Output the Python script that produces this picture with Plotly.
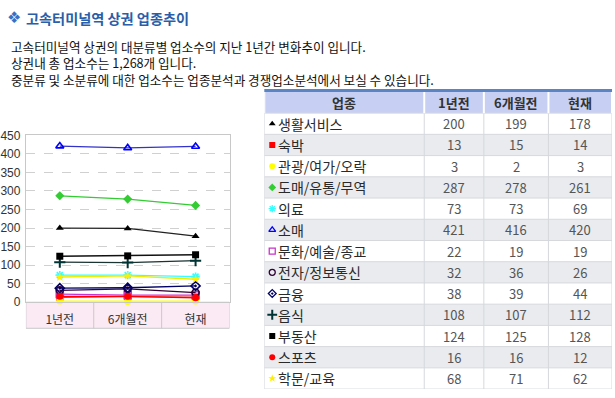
import plotly.graph_objects as go

W, H = 615, 398

periods = ["1년전", "6개월전", "현재"]
categories = ["생활서비스", "숙박", "관광/여가/오락", "도매/유통/무역", "의료", "소매",
              "문화/예술/종교", "전자/정보통신", "금융", "음식", "부동산", "스포츠", "학문/교육"]
v_1y = [200, 13, 3, 287, 73, 421, 22, 32, 38, 108, 124, 16, 68]
v_6m = [199, 15, 2, 278, 73, 416, 19, 36, 39, 107, 125, 16, 71]
v_now = [178, 14, 3, 261, 69, 420, 19, 26, 44, 112, 128, 12, 62]
y_ticks = [0, 50, 100, 150, 200, 250, 300, 350, 400, 450]
table_header = "업종"
title_text = "고속터미널역 상권 업종추이"
intro_lines = ["고속터미널역 상권의 대분류별 업소수의 지난 1년간 변화추이 입니다.",
               "상권내 총 업소수는 1,268개 입니다.",
               "중분류 및 소분류에 대한 업소수는 업종분석과 경쟁업소분석에서 보실 수 있습니다."]

line_colors = ["#222222", "#ff2020", "#ffff00", "#33cc33", "#33ffff", "#3333cc",
               "#cc33cc", "#330033", "#000066", "#1a3333", "#111111", "#ff0000", "#eeee00"]
marker_colors = ["#000000", "#ff0000", "#ffff00", "#33cc33", "#33ffff", "#0000ff",
                 "#cc33cc", "#330033", "#000066", "#003333", "#000000", "#ff0000", "#ffee00"]
symbols = ["triangle-up", "square", "circle", "diamond", "asterisk-open", "triangle-up-open",
           "square-open", "circle-open", "diamond-open-dot", "cross-thin-open", "square",
           "circle", "star"]

FONT = "Noto Sans CJK KR, DejaVu Sans, sans-serif"

def px(x):
    return x / W

def py(y):
    return 1 - y / H

fig = go.Figure()

# ---- line chart
for i, name in enumerate(categories):
    vals = [v_1y[i], v_6m[i], v_now[i]]
    sym = symbols[i]
    mline = 2 if sym == "cross-thin-open" else (1.6 if "open" in sym else 0)
    msize = 8 if sym == "cross-thin-open" else 7
    fig.add_trace(go.Scatter(
        x=periods, y=vals, mode="lines+markers", name=name,
        line=dict(color=line_colors[i], width=1.3),
        marker=dict(symbol=sym, size=msize, color=marker_colors[i],
                    line=dict(color=marker_colors[i], width=mline)),
        cliponaxis=False, showlegend=False, xaxis="x", yaxis="y", hoverinfo="skip"))

# ---- table on hidden axes x2/y2 (column edges in table units)
col_edges = [0, 161, 221, 286, 350]
n_rows = len(categories) + 1
col_centers = [(col_edges[j] + col_edges[j + 1]) / 2 for j in range(4)]
row_pos = [i + 1.5 for i in range(len(categories))]

for i, name in enumerate(categories):
    sym = symbols[i]
    fig.add_trace(go.Scatter(
        x=[8], y=[row_pos[i]], mode="markers", xaxis="x2", yaxis="y2",
        marker=dict(symbol=sym, size=7 if sym == "cross-thin-open" else 6,
                    color=marker_colors[i],
                    line=dict(color=marker_colors[i],
                              width=2 if sym == "cross-thin-open" else (1.3 if "open" in sym else 0))),
        showlegend=False, hoverinfo="skip", cliponaxis=False))

shapes = [
    dict(type="rect", xref="paper", yref="paper", x0=px(262), x1=px(612), y0=py(88), y1=py(85),
         fillcolor="#5b84c4", line=dict(width=0)),
    dict(type="rect", xref="x", yref="paper", x0=-0.5, x1=2.5, y0=py(333), y1=py(306),
         fillcolor="#fbeaf4", line=dict(color="#c8c8c8", width=1), layer="below"),
    dict(type="line", xref="x", yref="paper", x0=0.5, x1=0.5, y0=py(333), y1=py(306),
         line=dict(color="#c8c8c8", width=1)),
    dict(type="line", xref="x", yref="paper", x0=1.5, x1=1.5, y0=py(333), y1=py(306),
         line=dict(color="#c8c8c8", width=1)),
    dict(type="rect", xref="x2", yref="y2", x0=0, x1=350, y0=0, y1=1,
         fillcolor="#c7cff2", line=dict(width=0), layer="below"),
]
for i in range(len(categories)):
    fill = "#ffffff" if i % 2 == 0 else "#e9ebef"
    shapes.append(dict(type="rect", xref="x2", yref="y2", x0=0, x1=350, y0=i + 1, y1=i + 2,
                       fillcolor=fill, line=dict(width=0), layer="below"))
for r in range(1, n_rows + 1):
    shapes.append(dict(type="line", xref="x2", yref="y2", x0=0, x1=350, y0=r, y1=r,
                       line=dict(color="#d6d8dc", width=1), layer="below"))
for e in col_edges:
    shapes.append(dict(type="line", xref="x2", yref="y2", x0=e, x1=e, y0=1, y1=n_rows,
                       line=dict(color="#d6d8dc", width=1), layer="below"))
    shapes.append(dict(type="line", xref="x2", yref="y2", x0=e, x1=e, y0=0, y1=1,
                       line=dict(color="#ffffff", width=2), layer="below"))

annotations = [
    dict(text="❖", x=px(1), y=py(11), xref="paper", yref="paper", xanchor="left", yanchor="middle",
         showarrow=False, font=dict(family="DejaVu Sans", size=16, color="#3d6fc0")),
    dict(text=f"<b>{title_text}</b>", x=px(20), y=py(11), xref="paper", yref="paper",
         xanchor="left", yanchor="middle", showarrow=False,
         font=dict(family=FONT, size=14.2, color="#2a5ea8")),
    dict(text="<br>".join(intro_lines), x=px(5), y=py(58),
         xref="paper", yref="paper", xanchor="left", yanchor="middle", align="left",
         showarrow=False, font=dict(family=FONT, size=12.6, color="#111111")),
]
for j, h in enumerate([table_header] + periods):
    annotations.append(dict(text=f"<b>{h}</b>", x=col_centers[j], y=0.5, xref="x2", yref="y2",
                            xanchor="center", yanchor="middle", showarrow=False,
                            font=dict(family=FONT, size=13, color="#333333")))
cols = [v_1y, v_6m, v_now]
for i, name in enumerate(categories):
    annotations.append(dict(text=name, x=12, y=row_pos[i], xref="x2", yref="y2",
                            xanchor="left", yanchor="middle", showarrow=False,
                            font=dict(family=FONT, size=14, color="#2a2a2a")))
    for j, col in enumerate(cols):
        annotations.append(dict(text=str(col[i]), x=col_centers[j + 1], y=row_pos[i],
                                xref="x2", yref="y2", xanchor="center", yanchor="middle",
                                showarrow=False,
                                font=dict(family=FONT, size=13, color="#555555")))

fig.update_layout(
    width=W, height=H, autosize=False,
    margin=dict(l=0, r=0, t=0, b=0),
    paper_bgcolor="white", plot_bgcolor="rgba(0,0,0,0)",
    showlegend=False,
    xaxis=dict(domain=[px(22), px(227)], type="category", categoryorder="array",
               categoryarray=periods, range=[-0.5, 2.5], showgrid=False, zeroline=False,
               showline=True, linecolor="#c8c8c8", linewidth=1, mirror=True, ticks="",
               ticklabelstandoff=6, tickfont=dict(family=FONT, size=12, color="#333333"),
               fixedrange=True, anchor="y"),
    yaxis=dict(domain=[py(306), py(133)], range=[0, 450], tickvals=y_ticks,
               showgrid=True, gridcolor="#d0d0d0", griddash="dash", gridwidth=1,
               zeroline=False, showline=True, linecolor="#c8c8c8", linewidth=1, mirror=True,
               ticks="", ticklabelstandoff=2,
               tickfont=dict(family="Liberation Sans, Arial", size=12, color="#333333"),
               fixedrange=True, anchor="x"),
    xaxis2=dict(domain=[px(262), px(612)], range=[0, 350], visible=False, fixedrange=True,
                anchor="y2"),
    yaxis2=dict(domain=[py(396), py(88)], range=[n_rows, 0], visible=False, fixedrange=True,
                anchor="x2"),
    shapes=shapes, annotations=annotations,
)

fig.write_html("out.html", config={"displayModeBar": False},
               post_script="document.body.style.margin='0';")
